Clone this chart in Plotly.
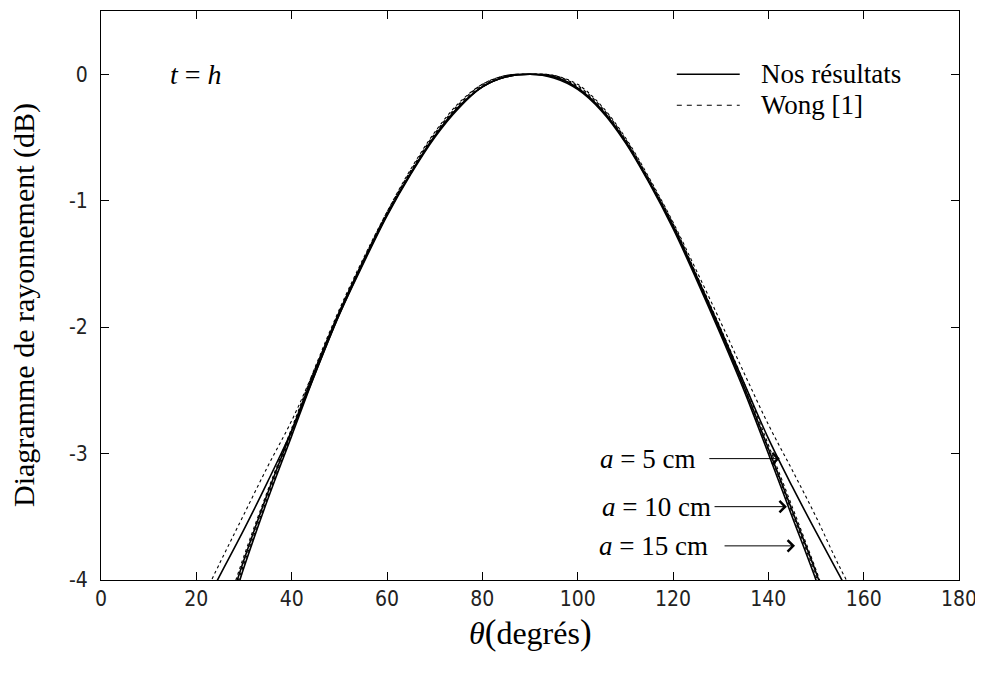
import plotly.graph_objects as go

theta = [20, 25, 30, 35, 40, 45, 50, 55, 60, 65, 70, 75, 80, 85, 90,
         95, 100, 105, 110, 115, 120, 125, 130, 135, 140, 145, 150, 155, 160]

# Nos résultats (solid)
a5_nos = [-4.32, -3.96, -3.60, -3.22, -2.82, -2.36, -1.90, -1.49, -1.11, -0.78, -0.49, -0.26, -0.10, -0.02, 0.0,
          -0.02, -0.11, -0.28, -0.53, -0.85, -1.20, -1.60, -2.02, -2.45, -2.88, -3.26, -3.62, -3.97, -4.32]
a10_nos = [-5.00, -4.42, -3.84, -3.31, -2.82, -2.33, -1.88, -1.48, -1.11, -0.78, -0.49, -0.26, -0.10, -0.02, 0.0,
           -0.02, -0.11, -0.28, -0.53, -0.85, -1.20, -1.61, -2.04, -2.48, -2.96, -3.45, -3.94, -4.48, -5.00]
a15_nos = [-5.10, -4.50, -3.90, -3.36, -2.86, -2.36, -1.90, -1.50, -1.12, -0.79, -0.50, -0.27, -0.10, -0.02, 0.0,
           -0.03, -0.12, -0.29, -0.54, -0.86, -1.22, -1.63, -2.06, -2.51, -3.00, -3.50, -4.00, -4.55, -5.10]

# Wong [1] (dashed)
a5_wong = [-4.25, -3.86, -3.48, -3.10, -2.74, -2.32, -1.88, -1.47, -1.09, -0.75, -0.46, -0.23, -0.08, -0.01, 0.0,
           -0.01, -0.08, -0.25, -0.50, -0.82, -1.17, -1.56, -1.96, -2.37, -2.77, -3.13, -3.50, -3.90, -4.25]
a10_wong = [-4.95, -4.38, -3.81, -3.29, -2.80, -2.31, -1.86, -1.46, -1.09, -0.76, -0.47, -0.24, -0.08, -0.01, 0.0,
            -0.01, -0.09, -0.26, -0.51, -0.83, -1.18, -1.59, -2.01, -2.45, -2.93, -3.42, -3.92, -4.45, -4.95]
a15_wong = [-5.05, -4.46, -3.87, -3.34, -2.84, -2.34, -1.88, -1.48, -1.10, -0.77, -0.48, -0.25, -0.09, -0.01, 0.0,
            -0.01, -0.10, -0.27, -0.52, -0.84, -1.20, -1.61, -2.04, -2.49, -2.97, -3.47, -3.97, -4.52, -5.05]

x_ticks = [0, 20, 40, 60, 80, 100, 120, 140, 160, 180]
y_ticks = [0, -1, -2, -3, -4]

x_title = "<i>θ</i><span style='font-size:35px'>(</span>degrés<span style='font-size:35px'>)</span>"
y_title = "Diagramme de rayonnement (dB)"

labels_a = ["<i>a</i> = 5 cm", "<i>a</i> = 10 cm", "<i>a</i> = 15 cm"]
label_x_right = [125.0, 128.3, 127.8]
label_y = [-3.04, -3.42, -3.73]
arrow_tail_x = [127.3, 128.4, 130.5]
arrow_head_x = [142.4, 143.9, 145.6]

legend_names = ["Nos résultats", "Wong [1]"]
legend_y = [0.0, -0.245]
legend_sample_x = [120.8, 134.0]
legend_text_x = 138.0

serif = "Liberation Serif, Times New Roman, serif"
tickfont = "Liberation Sans Narrow, Arial Narrow, DejaVu Sans Condensed, sans-serif"

fig = go.Figure()

solid_sets = [a5_nos, a10_nos, a15_nos]
dash_sets = [a5_wong, a10_wong, a15_wong]
for ys in solid_sets:
    fig.add_trace(go.Scatter(x=theta, y=ys, mode="lines", line=dict(color="black", width=1.6, shape="spline"),
                             name="Nos résultats", showlegend=False))
for ys in dash_sets:
    fig.add_trace(go.Scatter(x=theta, y=ys, mode="lines",
                             line=dict(color="black", width=1.1, dash="3px,3px", shape="spline"),
                             name="Wong [1]", showlegend=False))

# legend (drawn like the original MATLAB legend)
fig.add_trace(go.Scatter(x=legend_sample_x, y=[legend_y[0]] * 2, mode="lines",
                         line=dict(color="black", width=1.6), showlegend=False, hoverinfo="skip"))
fig.add_trace(go.Scatter(x=legend_sample_x, y=[legend_y[1]] * 2, mode="lines",
                         line=dict(color="black", width=1.1, dash="5px,5px"), showlegend=False, hoverinfo="skip"))

axis_common = dict(showline=True, linecolor="black", linewidth=1, mirror="ticks", ticks="inside",
                   ticklen=8, tickcolor="black", showgrid=False, zeroline=False,
                   tickfont=dict(family=tickfont, size=21, color="#222"))

fig.update_xaxes(range=[0, 180], tickvals=x_ticks, ticktext=[str(v) for v in x_ticks],
                 ticklabelstandoff=0, **axis_common)
fig.update_yaxes(range=[-4, 0.5], tickvals=y_ticks, ticktext=[str(v) for v in y_ticks],
                 ticklabelstandoff=8, **axis_common)

annotations = [
    dict(x=0.5, y=-0.093, xref="paper", yref="paper", text=x_title, showarrow=False,
         xanchor="center", yanchor="middle", font=dict(family=serif, size=32, color="black")),
    dict(x=-0.09, y=0.483, xref="paper", yref="paper", text=y_title, showarrow=False, textangle=-90,
         xanchor="center", yanchor="middle", font=dict(family=serif, size=30, color="black")),
    dict(x=19.9, y=0.0, xref="x", yref="y", text="<i>t</i> = <i>h</i>", showarrow=False,
         font=dict(family=serif, size=28, color="black")),
]
for i in range(2):
    annotations.append(dict(x=legend_text_x, y=legend_y[i], xref="x", yref="y", text=legend_names[i],
                            showarrow=False, xanchor="left", font=dict(family=serif, size=27, color="black")))
for i in range(3):
    annotations.append(dict(x=label_x_right[i], y=label_y[i], xref="x", yref="y", text=labels_a[i],
                            showarrow=False, xanchor="right", font=dict(family=serif, size=27, color="black")))
    annotations.append(dict(x=arrow_head_x[i], y=label_y[i], ax=arrow_tail_x[i], ay=label_y[i],
                            xref="x", yref="y", axref="x", ayref="y", text="", showarrow=True,
                            arrowhead=4, arrowsize=2.2, arrowwidth=1, arrowcolor="black"))

fig.update_layout(
    width=975, height=665,
    margin=dict(l=93, r=24, t=3, b=93),
    paper_bgcolor="white", plot_bgcolor="white",
    annotations=annotations,
    showlegend=False,
)

fig.write_html("out.html")
